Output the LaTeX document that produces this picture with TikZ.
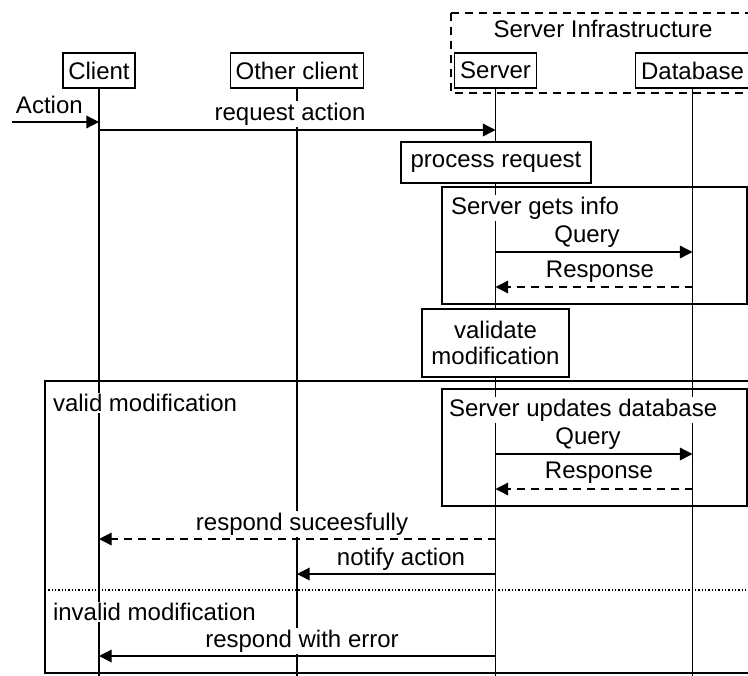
\documentclass[tikz,border=0pt]{standalone}
\usepackage{fontspec}
\setmainfont{Liberation Sans}
\usetikzlibrary{arrows.meta}

\begin{document}
\begin{tikzpicture}[x=0.75pt,y=0.75pt,yscale=-1,xscale=1,
  font=\fontsize{18}{19.5}\selectfont,
  line width=1pt,
  actor/.style={draw,fill=white,minimum height=26.25pt,inner xsep=4pt,inner ysep=0pt},
  stepbox/.style={draw,fill=white,inner sep=0pt,align=center},
  lbl/.style={fill=white,inner sep=1pt},
  framelbl/.style={lbl,anchor=west},
  msg/.style={-{Triangle[length=9.5pt,width=9.5pt]}},
  reply/.style={msg,dash pattern=on 6pt off 4.5pt},
]
\useasboundingbox (0,0) rectangle (748,675);

% Server Infrastructure group
\draw [dash pattern=on 6pt off 4.5pt] (451,13) rectangle (760,93);
\node[lbl] (infra) at (603,29) {Server Infrastructure};

% Participants
\node[actor] (client) at (99,70.5) {Client};
\node[actor] (other) at (297,70.5) {Other client};
\node[actor] (server) at (495.5,70.5) {Server};
\node[actor] (db) at (692.5,70.5) {Database};

% Lifelines
\coordinate (bottom) at (0,676);
\foreach \p in {client,other,server,db}
  \draw (\p.south) -- (\p.south |- bottom);

% Message rows
\coordinate (start) at (12,122);
\coordinate (rreq) at (0,130);
\coordinate (rq1) at (0,252);
\coordinate (rr1) at (0,287);
\coordinate (rq2) at (0,454);
\coordinate (rr2) at (0,489);
\coordinate (rok) at (0,539);
\coordinate (rnot) at (0,574);
\coordinate (rerr) at (0,656);

% Frames
\draw (442,187) rectangle (747,304);
\draw (45,381) rectangle (760,673);
\draw (442,389) rectangle (747,506);
\draw [dash pattern=on 1pt off 1.5pt] (45,590) -- (760,590);

% Frame labels
\node[framelbl] (getinfo) at (449,208) {Server gets info};
\node[framelbl] (valid) at (51,403) {valid modification};
\node[framelbl] (update) at (447,410) {Server updates database};
\node[framelbl] (invalid) at (51,612) {invalid modification};

% Activity boxes
\node[stepbox,minimum width=142.5pt,minimum height=30.75pt] (process) at (496,162.5) {process request};
\node[stepbox,minimum width=110.25pt,minimum height=51pt] (validate) at (495.5,343) {validate\\modification};

% Message labels
\node[framelbl] (actlbl) at (14,105) {Action};
\node[lbl] (reqlbl) at (290,114) {request action};
\node[lbl] (q1lbl) at (587,237) {Query};
\node[lbl] (r1lbl) at (600,272) {Response};
\node[lbl] (q2lbl) at (588,439) {Query};
\node[lbl] (r2lbl) at (599,473) {Response};
\node[lbl] (oklbl) at (302,524) {respond suceesfully};
\node[lbl] (notlbl) at (401,559) {notify action};
\node[lbl] (errlbl) at (302,641) {respond with error};

% Messages
\draw[msg] (start) -- (client |- start);
\draw[msg] (client |- rreq) -- (server |- rreq);
\draw[msg] (server |- rq1) -- (db |- rq1);
\draw[reply] (db |- rr1) -- (server |- rr1);
\draw[msg] (server |- rq2) -- (db |- rq2);
\draw[reply] (db |- rr2) -- (server |- rr2);
\draw[reply] (server |- rok) -- (client |- rok);
\draw[msg] (server |- rnot) -- (other |- rnot);
\draw[msg] (server |- rerr) -- (client |- rerr);

\end{tikzpicture}
\end{document}
